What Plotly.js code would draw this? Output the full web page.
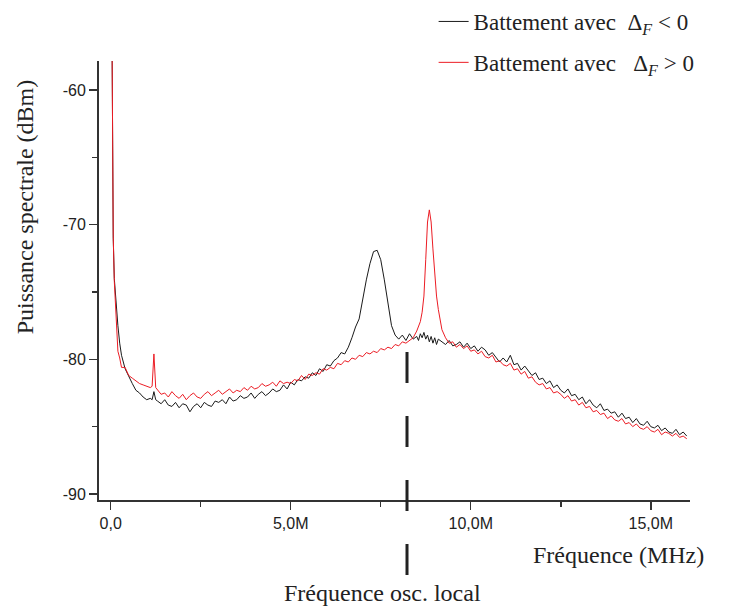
<!DOCTYPE html>
<html>
<head>
<meta charset="utf-8">
<script src="https://cdn.plot.ly/plotly-3.0.1.min.js"></script>
<style>html,body{margin:0;padding:0;background:#fff;}#chart{width:730px;height:610px;}</style>
</head>
<body>
<div id="chart"></div>
<script>
// Frequency (MHz)
const freq = [0.04,0.07,0.1,0.15,0.2,0.25,0.3,0.4,0.5,0.6,0.7,0.8,0.9,1.0,1.1,1.15,1.2,1.25,
1.3,1.4,1.5,1.6,1.7,1.8,1.9,2.0,2.1,2.2,2.3,2.4,2.5,2.6,2.7,2.8,2.9,3.0,3.1,3.2,3.3,3.4,3.5,3.6,3.7,3.8,3.9,
4.0,4.1,4.2,4.3,4.4,4.5,4.6,4.7,4.8,4.9,5.0,5.1,5.2,5.3,5.4,5.5,5.6,5.7,5.8,5.9,6.0,6.1,6.2,6.3,6.4,6.5,6.6,
6.7,6.8,6.9,7.0,7.1,7.2,7.3,7.4,7.5,7.6,7.7,7.8,7.9,8.0,8.1,8.2,8.3,8.4,8.5,8.55,8.6,8.65,8.7,8.75,8.8,8.85,
8.9,8.95,9.0,9.05,9.1,9.2,9.3,9.4,9.5,9.6,9.7,9.8,9.9,10.0,10.1,10.2,10.3,10.4,10.5,10.6,10.7,10.8,10.9,11.0,
11.1,11.2,11.3,11.4,11.5,11.6,11.7,11.8,11.9,12.0,12.1,12.2,12.3,12.4,12.5,12.6,12.7,12.8,12.9,13.0,13.1,13.2,
13.3,13.4,13.5,13.6,13.7,13.8,13.9,14.0,14.1,14.2,14.3,14.4,14.5,14.6,14.7,14.8,14.9,15.0,15.1,15.2,15.3,15.4,
15.5,15.6,15.7,15.8,15.9,16.0];

// Battement avec Delta_F < 0 (black), dBm
const powerNeg = [-57.5,-71.0,-74.0,-76.2,-77.5,-78.8,-79.7,-80.7,-81.3,-81.8,-82.3,-82.5,-82.8,-83.0,-82.9,-83.0,-82.4,-83.0,
-83.1,-83.3,-83.0,-83.4,-83.5,-83.2,-83.6,-83.3,-83.4,-83.9,
-83.5,-83.3,-83.6,-83.2,-83.4,-83.5,-83.1,-83.2,-83.0,-83.3,
-82.8,-83.1,-83.0,-82.7,-82.9,-82.8,-82.5,-82.9,-82.6,-82.4,
-82.7,-82.5,-82.2,-82.4,-82.3,-81.9,-82.2,
-81.7,-81.9,-81.5,-81.6,-81.3,-81.4,-81.0,-81.2,-80.7,-80.9,-80.4,-80.5,-80.1,-79.9,-79.5,-79.6,-79.1,
-78.4,-77.6,-77.0,-75.4,-74.1,-72.9,-72.0,-71.9,-72.6,-74.1,-75.9,-77.5,-78.2,-78.5,-78.2,-78.6,-78.1,-78.5,-78.3,
-78.6,-78.1,-78.4,-78.0,-78.5,-78.2,-78.7,-78.3,-78.8,-78.4,-78.9,-78.5,
-78.7,-78.9,-78.6,-79.0,-78.9,-78.7,-79.1,-78.8,
-79.2,-79.0,-79.4,-79.1,-79.3,-79.7,-79.5,-79.9,-80.2,-79.9,
-80.2,-79.7,-80.4,-80.3,-80.8,-80.5,-80.9,-81.2,-81.0,-81.5,
-81.4,-81.8,-81.6,-82.1,-81.9,-82.3,-82.5,-82.2,-82.7,-82.6,
-83.0,-82.8,-83.3,-83.0,-83.4,-83.6,-83.3,-83.8,-83.7,-84.0,
-83.9,-84.3,-84.0,-84.4,-84.3,-84.7,-84.4,-84.8,-84.9,-84.6,
-85.0,-85.1,-84.9,-85.3,-85.1,-85.4,-85.5,-85.2,-85.6,-85.4,
-85.7];

// Battement avec Delta_F > 0 (red), dBm
const powerPos = [-57.5,-70.8,-74.2,-77.0,-79.4,-79.9,-80.6,-80.6,-81.2,-81.4,-81.6,-81.8,-81.9,-82.0,-82.1,-82.0,-79.6,-82.1,
-82.3,-82.6,-82.5,-82.8,-82.4,-82.7,-82.9,-82.6,-83.0,-82.7,
-82.5,-82.8,-82.9,-82.6,-82.4,-82.7,-82.5,-82.3,-82.6,-82.4,
-82.2,-82.5,-82.3,-82.4,-82.1,-82.3,-82.0,-82.2,-82.1,-81.8,
-82.0,-81.9,-81.7,-82.0,-81.6,-81.8,-81.7,
-81.8,-81.5,-81.6,-81.2,-81.5,-81.1,-81.2,-81.0,-81.1,-80.7,-80.8,-80.6,-80.7,-80.3,-80.4,-80.1,-80.2,
-79.9,-80.0,-79.7,-79.8,-79.5,-79.6,-79.4,-79.5,-79.2,-79.3,-79.1,-79.2,-78.9,-79.0,-78.7,-78.8,-78.6,-78.4,-77.9,
-77.5,-77.2,-76.5,-75.3,-72.6,-69.8,-68.9,-69.8,-71.8,-73.9,-75.3,-76.3,
-77.8,-78.4,-78.8,-78.7,-79.1,-78.9,-79.2,-79.0,
-79.4,-79.3,-79.6,-79.4,-79.8,-79.9,-79.7,-80.2,-80.1,-80.4,
-80.5,-80.3,-80.8,-80.7,-81.1,-80.9,-81.4,-81.3,-81.7,-81.9,
-81.8,-82.2,-82.1,-82.5,-82.4,-82.6,-82.9,-82.7,-83.1,-83.0,
-83.4,-83.2,-83.6,-83.5,-83.9,-83.8,-84.1,-84.0,-84.4,-84.2,
-84.5,-84.6,-84.4,-84.8,-84.7,-85.0,-84.8,-85.1,-85.2,-85.0,
-85.3,-85.4,-85.2,-85.6,-85.4,-85.5,-85.7,-85.5,-85.8,-85.7,
-85.9];

const xTickVals = [0, 5, 10, 15];
const xTickText = ['0,0', '5,0M', '10,0M', '15,0M'];
const yTickVals = [-90, -80, -70, -60];
const yTickText = ['-90', '-80', '-70', '-60'];
const localOscFreq = 8.23;

const serif = 'Liberation Serif, Times New Roman, serif';
const sans = 'Liberation Sans, Arial, sans-serif';

const traces = [
  {x: freq, y: powerNeg, type: 'scatter', mode: 'lines',
   name: 'Battement avec&nbsp; Δ<sub><i>F</i></sub> &lt; 0',
   line: {color: '#1a1a1a', width: 1}, legendgroup: 'a'},
  {x: freq, y: powerPos, type: 'scatter', mode: 'lines',
   name: 'Battement avec&nbsp;&nbsp; Δ<sub><i>F</i></sub> &gt; 0',
   line: {color: '#ec1c24', width: 1}, legendgroup: 'b'}
];

const axisCommon = {
  showline: true, linecolor: '#333', linewidth: 2, mirror: false,
  showgrid: false, zeroline: false,
  ticks: 'outside', ticklen: 8, tickwidth: 1.5, tickcolor: '#333',
  tickfont: {family: sans, size: 16, color: '#222'},
  tickmode: 'array'
};

const layout = {
  width: 730, height: 610,
  margin: {l: 99, r: 40, t: 61, b: 110, autoexpand: false},
  paper_bgcolor: '#fff', plot_bgcolor: '#fff',
  showlegend: true,
  legend: {xref: 'container', yref: 'container', x: 0.594, xanchor: 'left', y: 1.0, yanchor: 'top',
           font: {family: serif, size: 23, color: '#222'},
           tracegroupgap: 8, bgcolor: 'rgba(0,0,0,0)'},
  xaxis: Object.assign({}, axisCommon, {
    range: [-0.325, 16.09], tickvals: xTickVals, ticktext: xTickText,
    minor: {tickmode: 'linear', tick0: 0, dtick: 2.5, ticks: 'outside', ticklen: 5, tickwidth: 1.5, tickcolor: '#333'}
  }),
  yaxis: Object.assign({}, axisCommon, {
    range: [-90.45, -57.84], tickvals: yTickVals, ticktext: yTickText,
    minor: {tickmode: 'linear', tick0: -90, dtick: 5, ticks: 'outside', ticklen: 5, tickwidth: 1.5, tickcolor: '#333'}
  }),
  shapes: [{
    type: 'line', xref: 'x', yref: 'paper',
    x0: localOscFreq, x1: localOscFreq, y0: 0.337, y1: -0.173,
    line: {color: '#222', width: 3, dash: '31px,33px'}
  }],
  annotations: [
    {text: 'Puissance spectrale (dBm)', xref: 'paper', yref: 'paper', x: -0.125, y: 0.667,
     xanchor: 'center', yanchor: 'middle', textangle: -90, showarrow: false,
     font: {family: serif, size: 24, color: '#222'}},
    {text: 'Fréquence (MHz)', xref: 'paper', yref: 'paper', x: 1.027, y: -0.125,
     xanchor: 'right', yanchor: 'middle', showarrow: false,
     font: {family: serif, size: 24, color: '#222'}},
    {text: 'Fréquence osc. local', xref: 'paper', yref: 'paper', x: 0.479, y: -0.212,
     xanchor: 'center', yanchor: 'middle', showarrow: false,
     font: {family: serif, size: 24, color: '#222'}}
  ]
};

Plotly.newPlot('chart', traces, layout, {staticPlot: true, displayModeBar: false});
</script>
</body>
</html>
